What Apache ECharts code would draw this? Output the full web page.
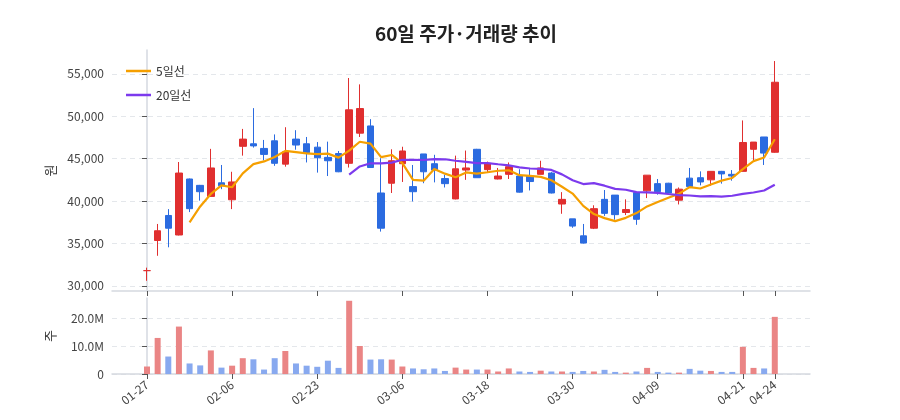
<!DOCTYPE html>
<html>
<head>
<meta charset="utf-8">
<script src="https://cdn.jsdelivr.net/npm/echarts@6/dist/echarts.min.js"></script>
<style>
  html, body { margin: 0; padding: 0; background: #fff; }
  #chart { width: 900px; height: 420px; }
</style>
</head>
<body>
<div id="chart"></div>
<script>
// 거래일 (60일)
var dates = ['01-27','01-28','01-29','01-30','02-02','02-03','02-04','02-05','02-06','02-09',
  '02-10','02-11','02-12','02-13','02-19','02-20','02-23','02-24','02-25','02-26',
  '02-27','03-03','03-04','03-05','03-06','03-09','03-10','03-11','03-12','03-13',
  '03-16','03-17','03-18','03-19','03-20','03-23','03-24','03-25','03-26','03-27',
  '03-30','03-31','04-01','04-02','04-03','04-06','04-07','04-08','04-09','04-10',
  '04-13','04-14','04-15','04-16','04-17','04-20','04-21','04-22','04-23','04-24'];

var opens = [31800,35350,38300,36000,42600,41850,40550,42150,40150,46450,
  46750,46200,47100,44350,47300,46750,46350,45150,45600,44450,
  48000,48850,40950,42100,44400,41700,45550,44400,42650,40250,
  43650,46100,43700,42600,43150,42950,42950,43150,43300,39650,
  37900,35900,36800,40200,40700,38650,41000,41200,42050,42100,
  40100,42700,42750,42500,43500,43150,43500,46100,47550,45750];
var closes = [31800,36500,36800,43300,39100,41100,43900,41800,42250,47300,
  46500,45500,44450,45800,46600,45700,45100,44750,43450,50750,
  50900,43950,36800,44750,45900,41100,43450,43650,42050,43800,
  43900,42750,44450,42950,44050,41050,42300,43900,40950,40200,
  37050,35050,39100,38550,38400,39000,37850,43050,41100,40950,
  41400,41700,42250,43500,43200,42950,46900,46950,45650,54000];
var lows = [30600,33550,34550,35950,38700,40050,40500,41400,39050,45350,
  46300,44800,44150,44050,46050,44550,43350,42950,43400,43950,
  47550,43900,36400,40950,42250,39950,42100,42200,41600,40200,
  42500,42750,43300,42550,42600,41000,41250,43150,40900,38500,
  36850,35000,36700,38250,37800,38350,37200,40350,40750,40900,
  39600,41700,41850,41800,42050,42400,43500,44750,44250,45700];
var highs = [32150,37300,39050,44600,42650,41900,46150,44250,43450,48500,
  50950,47200,47850,48700,48350,47550,46950,47000,45900,54500,
  53750,49650,45050,46100,46400,44250,45550,45450,43100,45350,
  45950,46150,44650,43900,44550,43750,43750,44750,43400,41050,
  37900,37300,39500,41300,40700,40200,41050,43050,42600,42150,
  41600,43900,43500,43500,43550,43650,49500,46950,47550,56500];
// 거래량 (백만 주)
var volumes = [2.7,13.0,6.3,17.1,3.8,3.1,8.5,2.3,3.0,5.7,
  5.3,1.6,5.7,8.3,3.8,3.0,2.6,4.8,2.2,26.4,
  10.1,5.2,5.3,5.2,2.7,2.0,1.7,2.0,1.1,2.3,
  1.6,1.6,1.6,0.9,2.0,0.9,0.75,1.2,0.9,0.9,
  0.75,1.1,0.9,1.5,0.75,0.5,0.9,2.2,0.75,0.5,
  0.5,1.85,1.2,1.1,0.75,0.75,9.8,2.2,2.0,20.6];

var dateTicks = [0, 8, 16, 24, 32, 40, 48, 56, 59];
var priceTicks = [30000, 35000, 40000, 45000, 50000, 55000];
var volTicks = [0, 10e6, 20e6];

var UP = '#e02f2f', DOWN = '#2b6be0';
var UP_VOL = '#ea8585', DOWN_VOL = '#88a9ef';

function movingAvg(n) {
  var out = [];
  for (var i = n - 1; i < closes.length; i++) {
    var s = 0;
    for (var j = i - n + 1; j <= i; j++) s += closes[j];
    out.push([i, s / n]);
  }
  return out;
}

var candleData = closes.map(function (c, i) { return [i, opens[i], c, lows[i], highs[i]]; });
var volData = volumes.map(function (v, i) {
  return { value: [i, v * 1e6], itemStyle: { color: closes[i] >= opens[i] ? UP_VOL : DOWN_VOL } };
});

var FONT = "'Noto Sans CJK KR', 'Noto Sans', sans-serif";
var axisLineStyle = { color: '#d5d9e0', width: 1.5 };

var chart = echarts.init(document.getElementById('chart'));
chart.setOption({
  animation: false,
  textStyle: { fontFamily: FONT },
  title: {
    text: '60일 주가·거래량 추이',
    left: 461, top: 19, textAlign: 'center',
    textStyle: { fontSize: 19, fontWeight: 'bold', color: '#222', fontFamily: FONT }
  },
  legend: {
    data: ['5일선', '20일선'],
    orient: 'vertical', left: 121, top: 60,
    icon: 'rect', itemWidth: 25, itemHeight: 2.5, itemGap: 12,
    textStyle: { fontSize: 12, color: '#333' }
  },
  grid: [
    { left: 112, right: 90, top: 50, height: 241 },
    { left: 112, right: 90, top: 298, height: 76 }
  ],
  xAxis: [
    {
      type: 'value', gridIndex: 0, min: -3.29, max: 62.31,
      axisLine: { show: true, lineStyle: axisLineStyle },
      axisTick: { show: true, customValues: dateTicks, length: 5, lineStyle: { color: '#555' } },
      axisLabel: { show: false, customValues: dateTicks },
      splitLine: { show: false }
    },
    {
      type: 'value', gridIndex: 1, min: -3.29, max: 62.31,
      axisLine: { show: true, lineStyle: axisLineStyle },
      axisTick: { show: true, customValues: dateTicks, length: 5, lineStyle: { color: '#555' } },
      axisLabel: {
        customValues: dateTicks, rotate: 38, fontSize: 12, color: '#444', margin: 9,
        formatter: function (v) { return dates[Math.round(v)]; }
      },
      splitLine: { show: false }
    }
  ],
  yAxis: [
    {
      type: 'value', gridIndex: 0, min: 29400, max: 57800,
      name: '원', nameLocation: 'middle', nameGap: 55,
      nameTextStyle: { fontSize: 13, color: '#333' },
      axisLine: { show: true, lineStyle: axisLineStyle },
      axisTick: { show: true, customValues: priceTicks, length: 5, lineStyle: { color: '#555' } },
      axisLabel: {
        customValues: priceTicks, fontSize: 12, color: '#444',
        formatter: function (v) { return v.toLocaleString('en-US'); }
      },
      splitLine: { show: true, lineStyle: { color: '#e4e7eb', type: [5, 4] } }
    },
    {
      type: 'value', gridIndex: 1, min: 0, max: 27.4e6,
      name: '주', nameLocation: 'middle', nameGap: 55,
      nameTextStyle: { fontSize: 13, color: '#333' },
      axisLine: { show: true, lineStyle: axisLineStyle },
      axisTick: { show: true, customValues: volTicks, length: 5, lineStyle: { color: '#555' } },
      axisLabel: {
        customValues: volTicks, fontSize: 12, color: '#444',
        formatter: function (v) { return v === 0 ? '0' : (v / 1e6).toFixed(1) + 'M'; }
      },
      splitLine: { show: true, lineStyle: { color: '#e4e7eb', type: [5, 4] } }
    }
  ],
  series: [
    {
      type: 'candlestick', xAxisIndex: 0, yAxisIndex: 0,
      barWidth: 7,
      data: candleData,
      itemStyle: { color: UP, color0: DOWN, borderColor: UP, borderColor0: DOWN, borderWidth: 1 }
    },
    {
      name: '5일선', type: 'line', xAxisIndex: 0, yAxisIndex: 0,
      data: movingAvg(5), symbol: 'none', z: 5,
      lineStyle: { color: '#f59f00', width: 2.2 }, itemStyle: { color: '#f59f00' }
    },
    {
      name: '20일선', type: 'line', xAxisIndex: 0, yAxisIndex: 0,
      data: movingAvg(20), symbol: 'none', z: 5,
      lineStyle: { color: '#7c3aed', width: 2.2 }, itemStyle: { color: '#7c3aed' }
    },
    {
      type: 'bar', xAxisIndex: 1, yAxisIndex: 1,
      barWidth: 6,
      data: volData
    }
  ]
});
</script>
</body>
</html>
